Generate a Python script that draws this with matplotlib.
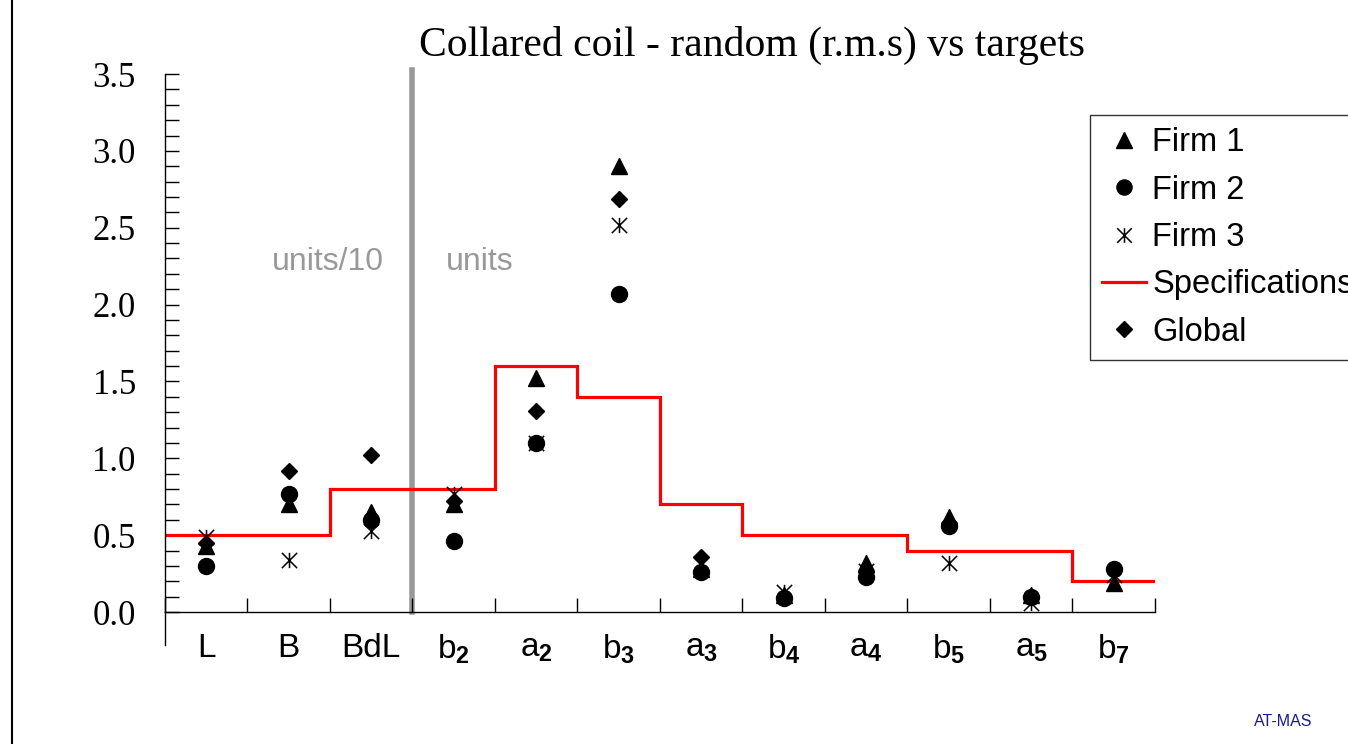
import numpy as np
import matplotlib
matplotlib.use("Agg")
import matplotlib.pyplot as plt
from matplotlib.lines import Line2D
from matplotlib.path import Path

plt.rcParams['mathtext.fontset'] = 'custom'
plt.rcParams['mathtext.rm'] = 'Liberation Sans'
plt.rcParams['mathtext.bf'] = 'Liberation Sans:bold'

# harmonics / quantities along the x axis
categories = ['L', 'B', 'BdL', 'b2', 'a2', 'b3', 'a3', 'b4', 'a4', 'b5', 'a5', 'b7']
tick_labels = ['L', 'B', 'BdL',
               r'$\mathregular{b_{\mathbf{2}}}$', r'$\mathregular{a_{\mathbf{2}}}$',
               r'$\mathregular{b_{\mathbf{3}}}$', r'$\mathregular{a_{\mathbf{3}}}$',
               r'$\mathregular{b_{\mathbf{4}}}$', r'$\mathregular{a_{\mathbf{4}}}$',
               r'$\mathregular{b_{\mathbf{5}}}$', r'$\mathregular{a_{\mathbf{5}}}$',
               r'$\mathregular{b_{\mathbf{7}}}$']

# random (r.m.s) per firm, first three in units/10, rest in units
firm1 = [0.43, 0.70, 0.65, 0.70, 1.52, 2.90, 0.28, 0.11, 0.32, 0.62, 0.11, 0.19]
firm2 = [0.30, 0.77, 0.60, 0.46, 1.10, 2.07, 0.26, 0.09, 0.23, 0.56, 0.10, 0.28]
firm3 = [0.49, 0.34, 0.53, 0.77, 1.10, 2.52, 0.31, 0.13, 0.27, 0.32, 0.06, 0.24]
global_rms = [0.45, 0.92, 1.02, 0.72, 1.31, 2.69, 0.36, 0.10, 0.26, 0.58, 0.10, 0.28]
specs = [0.5, 0.5, 0.8, 0.8, 1.6, 1.4, 0.7, 0.5, 0.5, 0.4, 0.4, 0.2]

x = np.arange(len(categories))
edges = np.arange(len(categories) + 1) - 0.5

# X with a vertical bar through it
asterisk = Path([(-1, -1), (1, 1), (-1, 1), (1, -1), (0, -1), (0, 1)],
                [Path.MOVETO, Path.LINETO, Path.MOVETO, Path.LINETO, Path.MOVETO, Path.LINETO])

fig = plt.figure(figsize=(13.48, 7.44), dpi=100)
ax = fig.add_axes([0.1224, 0.1774, 0.7344, 0.7231])

# separator between the units/10 and units groups
ax.axvline(2.5, ymin=0, ymax=1.008, color='#999999', lw=4, clip_on=False, zorder=1)

ax.stairs(specs, edges, baseline=None, color='red', lw=2.3, label='Specifications', zorder=2)

ax.plot(x, firm1, ls='none', marker='^', ms=12, color='black', label='Firm 1', zorder=3)
ax.plot(x, firm2, ls='none', marker='o', ms=11.5, color='black', label='Firm 2', zorder=3)
ax.plot(x, firm3, ls='none', marker=asterisk, ms=11, mew=1.1, color='black',
        mfc='none', label='Firm 3', zorder=3)
ax.plot(x, global_rms, ls='none', marker='D', ms=8.5, color='black', label='Global', zorder=3)

ax.set_xlim(-0.5, 11.5)
ax.set_ylim(0, 3.5)

for side in ['top', 'right']:
    ax.spines[side].set_visible(False)
for side in ['left', 'bottom']:
    ax.spines[side].set_linewidth(1.0)

# y axis stub below the x axis
ax.plot([0, 0], [0, -0.061], transform=ax.transAxes, color='black', lw=1.0, clip_on=False)

ax.set_yticks(np.arange(0, 3.51, 0.5))
ax.set_yticks(np.arange(0, 3.51, 0.1), minor=True)
ax.set_yticklabels([f'{v:.1f}' for v in np.arange(0, 3.51, 0.5)],
                   family='Liberation Serif', fontsize=25)
ax.tick_params(axis='y', which='both', direction='in', length=10, width=1, pad=21)

ax.set_xticks(x)
ax.set_xticklabels(tick_labels, family='Liberation Sans', fontsize=24)
ax.set_xticks(edges, minor=True)
ax.tick_params(axis='x', which='major', length=0, pad=15)
ax.tick_params(axis='x', which='minor', direction='in', length=10, width=1)

ax.text(1.48, 2.28, 'units/10', ha='center', va='center', color='#999999',
        family='Liberation Sans', fontsize=23)
ax.text(3.32, 2.28, 'units', ha='center', va='center', color='#999999',
        family='Liberation Sans', fontsize=23)

fig.text(0.558, 0.939, 'Collared coil - random (r.m.s) vs targets', ha='center', va='center',
         family='Liberation Serif', fontsize=30)

handles, labels = ax.get_legend_handles_labels()
order = ['Firm 1', 'Firm 2', 'Firm 3', 'Specifications', 'Global']
by_label = dict(zip(labels, handles))
by_label['Specifications'] = Line2D([], [], color='red', lw=2.3)
leg = fig.legend([by_label[k] for k in order], order, loc='upper left',
                 bbox_to_anchor=(1090 / 1348, 1 - 115 / 744), frameon=True, fancybox=False,
                 edgecolor='black', prop={'family': 'Liberation Sans', 'size': 23.5},
                 handlelength=1.35, handletextpad=0.18, labelspacing=0.5, borderpad=0.38,
                 borderaxespad=0, markerscale=0.95)
leg.get_frame().set_linewidth(1.0)

fig.text(1283 / 1348, 1 - 722 / 744, 'AT-MAS', ha='center', va='center', color='#1a1a8c',
         family='Liberation Sans', fontsize=11.5)

fig.add_artist(Line2D([12 / 1348, 12 / 1348], [0, 1], color='black', lw=1.5))

fig.savefig('out.png', dpi=100)
